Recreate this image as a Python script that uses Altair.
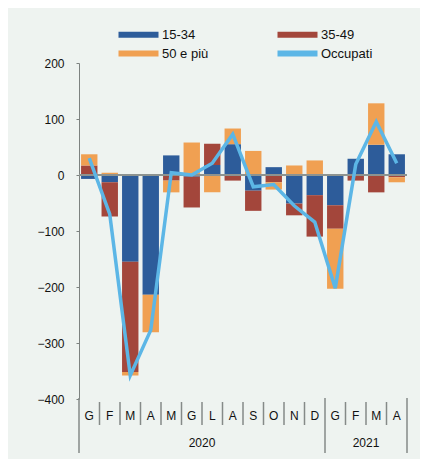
import altair as alt
import pandas as pd

# ---- data (thousands, monthly change) ----
months = ["G", "F", "M", "A", "M", "G", "L", "A", "S", "O", "N", "D", "G", "F", "M", "A"]
years = ["2020", "2021"]
year_start = [0, 12]
year_len = [12, 4]
series = ["15-34", "35-49", "50 e più"]
v_15_34 = [-7, -13, -155, -214, 35, -3, 18, 55, -28, 14, -51, -36, -54, 29, 54, 37]
v_35_49 = [17, -61, -197, 0, -10, -55, 38, -10, -36, -13, -21, -74, -42, -10, -31, -4]
v_50_piu = [20, 4, -6, -67, -21, 58, -31, 28, 43, -13, 17, 26, -107, 0, 74, -9]
occupati = [30, -70, -358, -277, 4, 0, 21, 73, -21, -17, -55, -84, -202, 19, 95, 21]

colors = ["#2d5c9a", "#a3463b", "#f0a052", "#5cb6e6"]
legend_domain = series + ["Occupati"]

W, H = 328, 336

rows = []
for k, (name, vals) in enumerate(zip(series, [v_15_34, v_35_49, v_50_piu])):
    for i, v in enumerate(vals):
        rows.append({"idx": i, "series": name, "value": v, "ord": k})
bars_df = pd.DataFrame(rows)
line_df = pd.DataFrame({"idx": list(range(len(occupati))), "occ": occupati, "series": "Occupati"})
month_df = pd.DataFrame({"idx": list(range(len(months))), "m": months})
year_df = pd.DataFrame({"year": years, "start": year_start, "len": year_len})
n = len(months)
sep_df = pd.DataFrame({"pos": list(range(n + 1))})
sep_df["kind"] = ["year" if (p in year_start or p == n) else "month" for p in sep_df["pos"]]

xs = alt.Scale(domain=[0, n], nice=False, zero=False)
ys = alt.Scale(domain=[-400, 200], nice=False)
cs = alt.Scale(domain=legend_domain, range=colors)

legend = alt.Legend(
    title=None, orient="none", legendX=38, legendY=-35, columns=2, direction="horizontal",
    symbolType="M-1,-0.6L7,-0.6L7,0.6L-1,0.6Z", symbolSize=100,
    symbolStrokeWidth=0, labelOffset=32, columnPadding=67, rowPadding=5,
    labelFontSize=13, labelFont="Liberation Sans", labelColor="#111",
    symbolOpacity=1,
)

yaxis = alt.Axis(values=[-400, -300, -200, -100, 0, 100, 200], tickSize=3, labelPadding=12,
                 domainColor="#7d8280", tickColor="#7d8280", grid=False, title=None,
                 labelFontSize=12, labelFont="Liberation Sans", labelColor="#111")

bars = alt.Chart(bars_df).transform_stack(
    stack="value", groupby=["idx"], as_=["v0", "v1"], sort=[alt.SortField("ord")], offset="zero"
).transform_calculate(x0="datum.idx + 0.1", x1="datum.idx + 0.9").mark_bar().encode(
    x=alt.X("x0:Q", scale=xs, axis=None),
    x2="x1:Q",
    y=alt.Y("v0:Q", scale=ys, axis=yaxis),
    y2="v1:Q",
    color=alt.Color("series:N", scale=cs, legend=legend),
)

zero = alt.Chart(pd.DataFrame({"z": [0]})).mark_rule(color="#8d9390", strokeWidth=2).encode(
    y=alt.Y("z:Q", scale=ys)
)

line = alt.Chart(line_df).transform_calculate(xc="datum.idx + 0.5").mark_line(strokeWidth=3.5).encode(
    x=alt.X("xc:Q", scale=xs, axis=None),
    y=alt.Y("occ:Q", scale=ys),
    color=alt.Color("series:N", scale=cs, legend=legend),
)

mlabels = alt.Chart(month_df).transform_calculate(xc="datum.idx + 0.5").mark_text(
    fontSize=12, font="Liberation Sans", color="#111", baseline="middle"
).encode(x=alt.X("xc:Q", scale=xs), y=alt.value(H + 17), text="m:N")

ylabels = alt.Chart(year_df).transform_calculate(xc="datum.start + datum.len / 2").mark_text(
    fontSize=12, font="Liberation Sans", color="#111", baseline="middle"
).encode(x=alt.X("xc:Q", scale=xs), y=alt.value(H + 44), text="year:N")

msep = alt.Chart(sep_df).transform_filter("datum.kind == 'month'").mark_rule(
    color="#858a88", strokeWidth=1.5
).encode(x=alt.X("pos:Q", scale=xs), y=alt.value(H + 3), y2=alt.value(H + 26))

ysep = alt.Chart(sep_df).transform_filter("datum.kind == 'year'").mark_rule(
    color="#858a88", strokeWidth=1.5
).encode(x=alt.X("pos:Q", scale=xs), y=alt.value(H - 1), y2=alt.value(H + 54))

chart = alt.layer(bars, zero, line, mlabels, ylabels, msep, ysep).properties(
    width=W, height=H,
    autosize=alt.AutoSizeParams(type="none"),
    padding={"left": 71, "top": 55, "right": 13, "bottom": 60},
    background="#eef3f0",
).configure_view(stroke=None)

chart.save("out.html", embed_options={"renderer": "svg", "actions": False})
